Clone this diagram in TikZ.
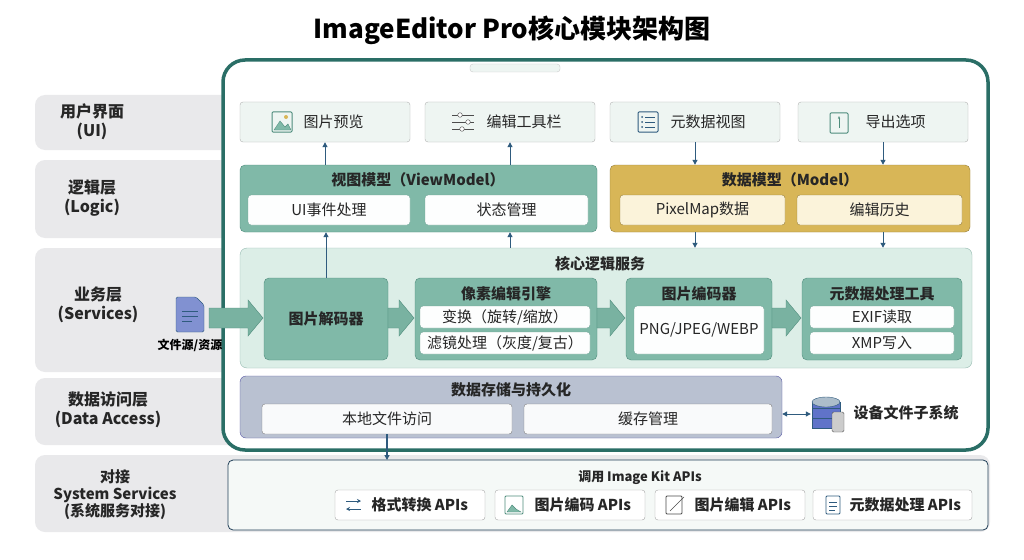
\documentclass[tikz,border=0pt]{standalone}
\usepackage{fontspec}
\setmainfont{Noto Sans CJK SC}
\usetikzlibrary{arrows.meta}
\definecolor{frame}{HTML}{2A6E66}
\definecolor{teal}{HTML}{80B9A8}
\definecolor{tealb}{HTML}{4E8C7C}
\definecolor{core}{HTML}{DCEEE7}
\definecolor{uib}{HTML}{EEF5F2}
\definecolor{gold}{HTML}{D8B657}
\definecolor{cream}{HTML}{FBF3DA}
\definecolor{stor}{HTML}{B9C1D1}
\definecolor{lab}{HTML}{E9E9EB}
\definecolor{arr}{HTML}{2F5B7E}
\newcommand\blockarr[4]{% name, x1, x2, y
 \coordinate (#1) at ({(#2+#3)/2},#4);
 \draw[tealb,fill=teal!85!tealb] (#2,#4-10) -- (#3-15,#4-10) -- (#3-15,#4-18) -- (#3,#4) -- (#3-15,#4+18) -- (#3-15,#4+10) -- (#2,#4+10) -- cycle;}
\tikzset{x=1pt,y=-1pt,
 ltxt/.style={font=\fontsize{16}{19}\selectfont\bfseries,align=center,text=black!85},
 ui/.style={fill=uib,draw=gray!60,rounded corners=3pt},
 tbox/.style={fill=teal,draw=tealb,rounded corners=5pt},
 inner/.style={fill=white!90!uib,draw=tealb!80,rounded corners=3pt},
 t/.style={font=\fontsize{15}{17}\selectfont,text=black!85},
 tb/.style={font=\fontsize{15}{17}\selectfont\bfseries,text=black!85},
 ar/.style={arr,line width=1pt,-{Triangle[length=5pt,width=5pt]}},
}
\begin{document}
\begin{tikzpicture}
\useasboundingbox[fill=white] (0,0) rectangle (1024,559);
\node[font=\fontsize{26}{30}\selectfont\bfseries] (title) at (512,30) {ImageEditor Pro核心模块架构图};
% left labels
\fill[lab,rounded corners=10pt] (35,95) rectangle (300,150);
\fill[lab,rounded corners=10pt] (35,160) rectangle (300,238);
\fill[lab,rounded corners=10pt] (35,248) rectangle (300,372);
\fill[lab,rounded corners=10pt] (35,378) rectangle (300,445);
\fill[lab,rounded corners=10pt] (35,455) rectangle (990,532);
\node[ltxt] (l1) at (92,122) {用户界面\\(UI)};
\node[ltxt] (l2) at (92,198) {逻辑层\\(Logic)};
\node[ltxt] (l3) at (98,305) {业务层\\(Services)};
\node[ltxt] (l4) at (108,410) {数据访问层\\(Data Access)};
\node[ltxt,font=\fontsize{15}{17}\selectfont\bfseries] (l5) at (115,495) {对接\\System Services\\(系统服务对接)};
% device frame
\draw[frame,line width=3.5pt,fill=white,rounded corners=22pt] (223,60) rectangle (988,450);
\fill[uib,draw=gray!40,rounded corners=3pt] (470,64) rectangle (560,72);
% UI row
\node[ui,minimum width=170,minimum height=40] (u1) at (325,122) {};
\node[ui,minimum width=170,minimum height=40] (u2) at (510,122) {};
\node[ui,minimum width=170,minimum height=40] (u3) at (695,122) {};
\node[ui,minimum width=170,minimum height=40] (u4) at (883,122) {};
\node[t,anchor=west] (u1t) at (300,122) {图片预览};
\node[t,anchor=west] (u2t) at (483,122) {编辑工具栏};
\node[t,anchor=west] (u3t) at (667,122) {元数据视图};
\node[t,anchor=west] (u4t) at (862,122) {导出选项};
% icons
\draw[tealb,line width=1pt,rounded corners=1pt] (272,112) rectangle (292,132);
\draw[tealb,fill=teal] (274,130) -- (280,121) -- (285,127) -- (288,124) -- (291,130) -- cycle;
\fill[gold] (286,117) circle (2);
\foreach \yy/\xx in {115/460,122/468,129/462}{\draw[black!70,line width=0.8pt] (452,\yy) -- (474,\yy); \draw[black!70,fill=white] (\xx,\yy) circle (2.3);}
\draw[arr,line width=1pt,rounded corners=1pt] (638,112) rectangle (658,132);
\foreach \yy in {117,122,127}{\fill[arr] (642,\yy) circle (1); \draw[arr] (645,\yy) -- (655,\yy);}
\draw[tealb,line width=1pt,rounded corners=1pt] (830,113) rectangle (848,133);
\draw[tealb,-{Stealth[length=3pt]}] (839,128) -- (839,116);
% ViewModel
\node[tbox,minimum width=357,minimum height=67] (vm) at (418.5,198.5) {};
\node[tb] (vmt) at (418,180) {视图模型（ViewModel）};
\node[inner,minimum width=162,minimum height=30] (vm1) at (329,210) {};
\node[t] at (vm1) {UI事件处理};
\node[inner,minimum width=163,minimum height=30] (vm2) at (506.5,210) {};
\node[t] at (vm2) {状态管理};
% Model
\node[fill=gold,draw=gold!70!black,rounded corners=5pt,minimum width=360,minimum height=67] (md) at (790,198.5) {};
\node[tb] (mdt) at (790,180) {数据模型（Model）};
\node[fill=cream,draw=gold!70!black,rounded corners=3pt,minimum width=165,minimum height=30] (md1) at (702.5,210) {};
\node[t] at (md1) {PixelMap数据};
\node[fill=cream,draw=gold!70!black,rounded corners=3pt,minimum width=165,minimum height=30] (md2) at (879.5,210) {};
\node[t] at (md2) {编辑历史};
% core
\node[fill=core,draw=tealb!60,rounded corners=7pt,minimum width=732,minimum height=120] (core) at (606,308) {};
\node[tb] (coret) at (600,264) {核心逻辑服务};
\node[tbox,minimum width=124,minimum height=82] (dec) at (326,319) {};
\node[tb] at (dec) {图片解码器};
\node[tbox,minimum width=182,minimum height=82] (pix) at (506,319) {};
\node[tb] at (506,294) {像素编辑引擎};
\node[inner,minimum width=170,minimum height=22] (p1) at (505,317) {};
\node[t] at (p1) {变换（旋转/缩放）};
\node[inner,minimum width=170,minimum height=22] (p2) at (505,343) {};
\node[t] at (p2) {滤镜处理（灰度/复古）};
\node[tbox,minimum width=146,minimum height=82] (enc) at (699,319) {};
\node[tb] at (699,294) {图片编码器};
\node[inner,minimum width=130,minimum height=48] (e1) at (699,330) {};
\node[t] at (e1) {PNG/JPEG/WEBP};
\node[tbox,minimum width=160,minimum height=82] (meta) at (882,319) {};
\node[tb] at (882,294) {元数据处理工具};
\node[inner,minimum width=144,minimum height=22] (m1) at (882,317) {};
\node[t] at (m1) {EXIF读取};
\node[inner,minimum width=144,minimum height=22] (m2) at (882,343) {};
\node[t] at (m2) {XMP写入};
\blockarr{a0}{209}{263}{318}
\blockarr{a1}{388}{414}{318}
\blockarr{a2}{597}{625}{318}
\blockarr{a3}{772}{801}{318}
% file
\draw[arr,fill=arr!45!white!80!blue,rounded corners=1.5pt] (176,297) -- (196,297) -- (204,305) -- (204,332) -- (176,332) -- cycle;
\draw[arr] (182,311) -- (198,311) (182,316) -- (198,316) (182,321) -- (192,321);
\node[font=\fontsize{12}{14}\selectfont\bfseries] (file) at (190,345) {文件源/资源};
% storage
\node[fill=stor,draw=gray!70!blue,rounded corners=6pt,minimum width=542,minimum height=62] (st) at (511,407) {};
\node[tb] at (511,390) {数据存储与持久化};
\node[fill=white!92!stor,draw=gray,rounded corners=3pt,minimum width=250,minimum height=30] (s1) at (387,419) {};
\node[t] at (s1) {本地文件访问};
\node[fill=white!92!stor,draw=gray,rounded corners=3pt,minimum width=248,minimum height=30] (s2) at (648,419) {};
\node[t] at (s2) {缓存管理};
% database
\node[minimum width=30,minimum height=34] (db) at (826,414) {};
\foreach \yy in {418,408}{\fill[arr!60!blue!70!white,draw=arr] (812,\yy) rectangle (840,\yy+10);}
\fill[arr!60!blue!70!white,draw=arr] (812,402) rectangle (840,408);
\draw[arr,fill=arr!40!white] (826,402) ellipse (14 and 5);
\fill[gray!40,draw=gray!70!black,rounded corners=1.5pt] (832,412) rectangle (844,432);
\node[tb,anchor=west] (dev) at (850,413) {设备文件子系统};
\draw[arr,line width=1pt,{Triangle[length=5pt,width=5pt]}-{Triangle[length=5pt,width=5pt]}] (st.east|-db) -- (db.west);
% system row
\draw[arr!70!black,fill=uib!60!white,rounded corners=5pt,line width=0.8pt] (228,460) rectangle (988,530);
\node[tb,font=\fontsize{13}{15}\selectfont\bfseries] (ik) at (640,478) {调用 Image Kit APIs};
\tikzset{api/.style={fill=white,draw=gray!70,rounded corners=3pt,minimum height=30}}
\node[api,minimum width=150] (k1) at (410,505) {};
\node[api,minimum width=150] (k2) at (570,505) {};
\node[api,minimum width=150] (k3) at (730,505) {};
\node[api,minimum width=159] (k4) at (892.5,505) {};
\node[tb,anchor=west] at (368,505) {格式转换 APIs};
\node[tb,anchor=west] at (531,505) {图片编码 APIs};
\node[tb,anchor=west] at (691,505) {图片编辑 APIs};
\node[tb,anchor=west] at (846,505) {元数据处理 APIs};
\draw[arr,line width=1pt,-{Stealth[length=4pt,width=4pt]}] (346,501) -- (361,501);
\draw[arr,line width=1pt,{Stealth[length=4pt,width=4pt]}-] (346,509) -- (361,509);
\draw[tealb,line width=0.8pt,rounded corners=1pt] (505,496) rectangle (523,514);
\draw[tealb,fill=teal] (507,512) -- (512,505) -- (516,509) -- (521,512) -- cycle;
\draw[black!70,line width=0.8pt,rounded corners=1pt] (666,496) rectangle (682,514); \draw[black!70] (670,511) -- (684,497);
\draw[arr,line width=0.8pt,rounded corners=1pt] (826,496) rectangle (840,514); \draw[arr] (829,502) -- (837,502) (829,506) -- (837,506) (829,510) -- (835,510);
% connectors
\draw[ar] (vm.north-|u1) -- (u1.south);
\draw[ar] (vm.north-|u2) -- (u2.south);
\draw[ar] (u3.south) -- (md.north-|u3);
\draw[ar] (u4.south) -- (md.north-|u4);
\draw[ar] (dec.north) -- (vm.south-|dec);
\draw[ar] (core.north-|u2) -- (vm.south-|u2);
\draw[ar] (md.south-|u3) -- (core.north-|u3);
\draw[ar] (md.south-|u4) -- (core.north-|u4);
\draw[ar,line width=1.5pt] (s1.south) -- (s1.south|-228,460);
\end{tikzpicture}
\end{document}
